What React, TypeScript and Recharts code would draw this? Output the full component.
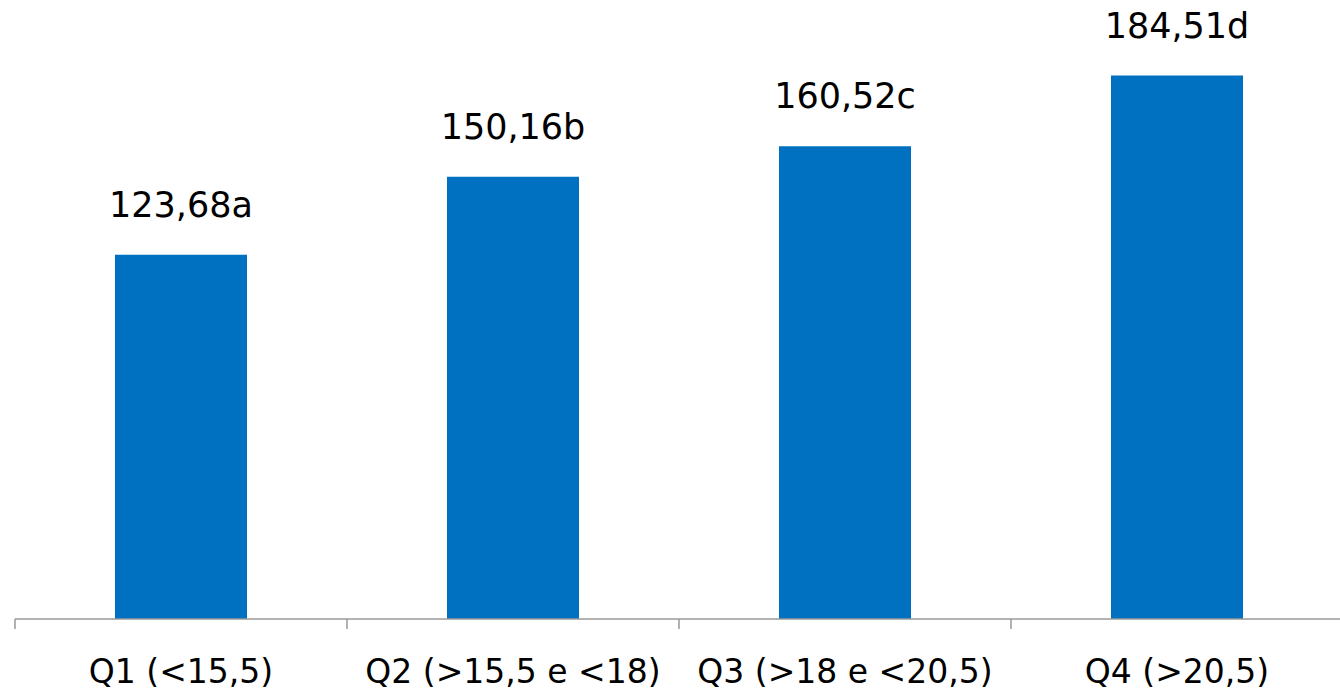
import { Bar, BarChart, LabelList, XAxis, YAxis } from "recharts";

const CATEGORIES = ["Q1 (<15,5)", "Q2 (>15,5 e <18)", "Q3 (>18 e <20,5)", "Q4 (>20,5)"];
const VALUES = [123.68, 150.16, 160.52, 184.51];
const LETTERS = ["a", "b", "c", "d"];
// boundary ticks at integers, category labels at the half steps
const AXIS_TICKS = [0, 0.5, 1, 1.5, 2, 2.5, 3, 3.5, 4];

const FONT = "'DejaVu Sans', Verdana, sans-serif";

const data = CATEGORIES.map((name, i) => ({
  name,
  pos: i + 0.5,
  value: VALUES[i],
  label: `${VALUES[i].toFixed(2).replace(".", ",")}${LETTERS[i]}`,
}));

// value + significance letter sitting above each bar
function ValueLabel(props: any) {
  const { x, y, width, value } = props;
  return (
    <text
      x={x + width / 2}
      y={y - 38}
      textAnchor="middle"
      fontSize={35}
      fontFamily={FONT}
      fill="#000"
    >
      {value}
    </text>
  );
}

function AxisTick(props: any) {
  const { x, y, payload } = props;
  const v = payload.value as number;
  if (Number.isInteger(v)) {
    return <line x1={x} x2={x} y1={y} y2={y + 10} stroke="#999" strokeWidth={1.5} />;
  }
  return (
    <text x={x} y={y + 64} textAnchor="middle" fontSize={33} fontFamily={FONT} fill="#000">
      {CATEGORIES[Math.floor(v)]}
    </text>
  );
}

export default function App() {
  return (
    <div style={{ position: "absolute", left: 0, top: 0, width: 1340, height: 691, overflow: "hidden", background: "#fff" }}>
      <BarChart
        width={1343}
        height={691}
        data={data}
        margin={{ top: 30, right: 0, bottom: 0, left: 15 }}
      >
        <XAxis dataKey="name" hide height={0} />
        <XAxis
          xAxisId="pos"
          dataKey="pos"
          type="number"
          domain={[0, 4]}
          ticks={AXIS_TICKS}
          interval={0}
          height={72}
          tickLine={false}
          tickSize={0}
          tickMargin={0}
          axisLine={{ stroke: "#999", strokeWidth: 1.5 }}
          tick={<AxisTick />}
        />
        <YAxis hide domain={[0, 200]} />
        <Bar dataKey="value" fill="#0070C0" barSize={132} isAnimationActive={false}>
          <LabelList dataKey="label" content={<ValueLabel />} />
        </Bar>
      </BarChart>
    </div>
  );
}
